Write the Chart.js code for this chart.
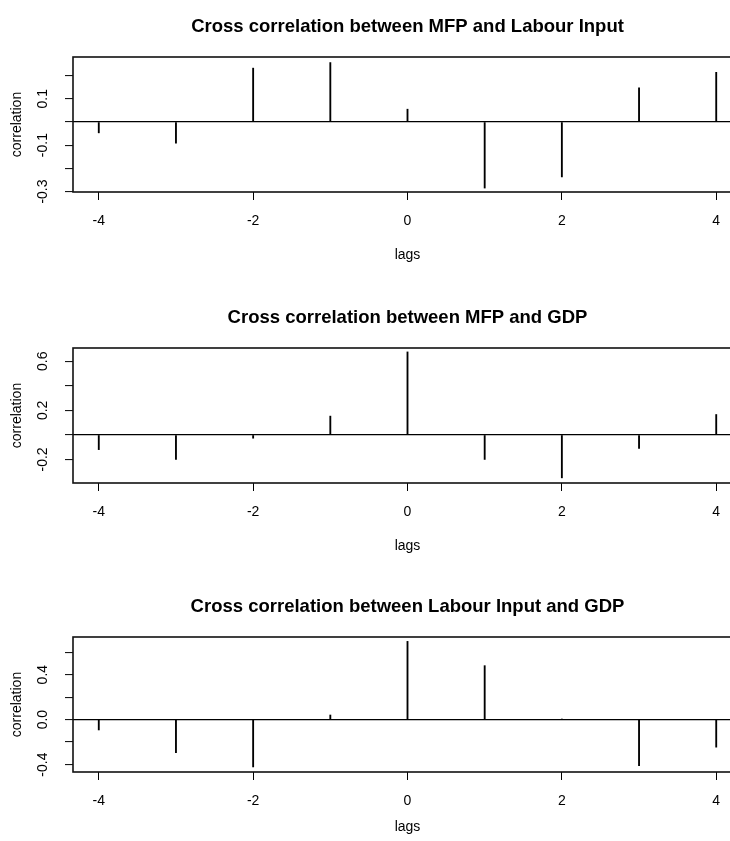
<!DOCTYPE html>
<html>
<head>
<meta charset="utf-8">
<title>Cross correlations</title>
<script src="https://cdn.jsdelivr.net/npm/chart.js@4"></script>
<style>
  html, body { margin: 0; padding: 0; background: #fff; }
  body { width: 730px; height: 841px; overflow: hidden; position: relative; }
  canvas { position: absolute; left: 0; }
</style>
</head>
<body>
<canvas id="ccf1" width="745" height="280" style="top:0px"></canvas>
<canvas id="ccf2" width="745" height="280" style="top:291px"></canvas>
<canvas id="ccf3" width="745" height="280" style="top:580px"></canvas>
<script>
// lags and the cross correlations at each lag
const lags = [-4, -3, -2, -1, 0, 1, 2, 3, 4];
const lagTicks = [-4, -2, 0, 2, 4];

const mfpLabour = [-0.047, -0.091, 0.232, 0.256, 0.055, -0.285, -0.237, 0.147, 0.214];
const mfpGdp = [-0.12, -0.20, -0.027, 0.153, 0.676, -0.20, -0.35, -0.11, 0.166];
const labourGdp = [-0.092, -0.293, -0.421, 0.041, 0.696, 0.48, 0.003, -0.41, -0.245];

// y ticks, and the ones that get a label
const ticksMfpLabour = [-0.3, -0.2, -0.1, 0, 0.1, 0.2];
const labelsMfpLabour = [-0.3, -0.1, 0.1];
const ticksMfpGdp = [-0.2, 0, 0.2, 0.4, 0.6];
const labelsMfpGdp = [-0.2, 0.2, 0.6];
const ticksLabourGdp = [-0.4, -0.2, 0, 0.2, 0.4, 0.6];
const labelsLabourGdp = [-0.4, 0, 0.4];

const FONT = '"Liberation Sans", Arial, Helvetica, sans-serif';
Chart.defaults.font.family = FONT;
Chart.defaults.color = '#000';

// title, axis titles, rotated y labels and the box, drawn R-style
const rPlot = {
  id: 'rPlot',
  afterDraw(chart, args, opts) {
    const { ctx, chartArea: a } = chart;
    const ys = chart.scales.y;
    const midX = (a.left + a.right) / 2;
    ctx.save();
    ctx.fillStyle = '#000';
    ctx.strokeStyle = '#111';

    ctx.lineWidth = 1.6;
    ctx.strokeRect(a.left, a.top, a.right - a.left, a.bottom - a.top);

    ctx.textAlign = 'center';
    ctx.textBaseline = 'middle';
    ctx.font = 'bold 18.5px ' + FONT;
    ctx.fillText(opts.title, midX, a.top - 30);

    ctx.font = '14px ' + FONT;
    ctx.fillText('lags', midX, a.bottom + opts.xlabGap);

    opts.labels.forEach(v => {
      ctx.save();
      ctx.translate(43, ys.getPixelForValue(v));
      ctx.rotate(-Math.PI / 2);
      ctx.fillText(v.toFixed(1), 0, 0);
      ctx.restore();
    });

    ctx.save();
    ctx.translate(17, (a.top + a.bottom) / 2);
    ctx.rotate(-Math.PI / 2);
    ctx.fillText('correlation', 0, 0);
    ctx.restore();

    ctx.restore();
  }
};

function ccfChart(id, title, values, yMin, yMax, yTicks, yLabels, xlabGap) {
  return new Chart(document.getElementById(id), {
    type: 'bar',
    data: {
      datasets: [{
        data: lags.map((l, i) => ({ x: l, y: values[i] })),
        backgroundColor: '#000',
        borderWidth: 0,
        barThickness: 1.2
      }]
    },
    options: {
      responsive: false,
      animation: false,
      events: [],
      layout: { padding: { top: 57, right: 3, bottom: 28, left: 0 } },
      plugins: {
        legend: { display: false },
        tooltip: { enabled: false },
        rPlot: { title: title, labels: yLabels, xlabGap: xlabGap }
      },
      scales: {
        x: {
          type: 'linear',
          offset: false,
          min: -4.334,
          max: 4.334,
          afterBuildTicks: s => { s.ticks = lagTicks.map(v => ({ value: v })); },
          afterFit: s => { s.height = 60; },
          ticks: { font: { size: 14 }, padding: 13, maxRotation: 0 },
          grid: { offset: false, drawOnChartArea: false, tickLength: 8, tickColor: '#000', tickWidth: 1 },
          border: { display: false }
        },
        y: {
          min: yMin,
          max: yMax,
          afterBuildTicks: s => { s.ticks = yTicks.map(v => ({ value: v })); },
          afterFit: s => { s.width = 73; },
          ticks: { display: false },
          grid: {
            color: c => (c.tick && Math.abs(c.tick.value) < 1e-9) ? '#000' : 'rgba(0,0,0,0)',
            lineWidth: 1.2,
            tickLength: 8,
            tickColor: '#000',
            tickWidth: 1
          },
          border: { display: false }
        }
      }
    },
    plugins: [rPlot]
  });
}

ccfChart('ccf1', 'Cross correlation between MFP and Labour Input', mfpLabour,
  -0.302, 0.28, ticksMfpLabour, labelsMfpLabour, 63);
ccfChart('ccf2', 'Cross correlation between MFP and GDP', mfpGdp,
  -0.392, 0.708, ticksMfpGdp, labelsMfpGdp, 63);
ccfChart('ccf3', 'Cross correlation between Labour Input and GDP', labourGdp,
  -0.466, 0.735, ticksLabourGdp, labelsLabourGdp, 55);
</script>
</body>
</html>
